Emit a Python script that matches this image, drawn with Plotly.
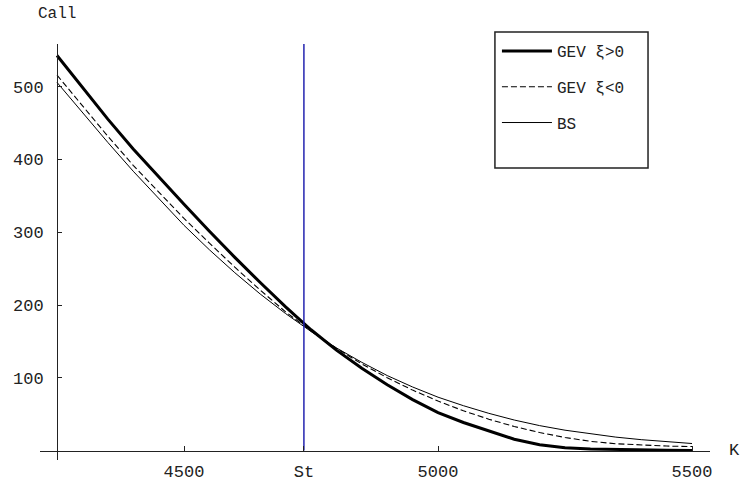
import plotly.graph_objects as go

# Strike prices K
strikes = [4250, 4300, 4350, 4400, 4450, 4500, 4550, 4600, 4650, 4700,
           4750, 4800, 4850, 4900, 4950, 5000, 5050, 5100, 5150, 5200,
           5250, 5300, 5350, 5400, 5450, 5500]

# Call prices
gev_pos = [543, 499, 455.5, 414.5, 376, 338.5, 301.5, 265.5, 231, 197.5,
           166, 138, 113, 90.5, 70, 52, 38.5, 26.5, 15.5, 7.8,
           3.8, 2.0, 1.2, 0.7, 0.3, 0.1]
gev_neg = [516, 473.5, 432, 392, 355, 319, 285, 252, 220.5, 190.5,
           164.5, 140.5, 119, 100, 83, 68, 54.6, 43, 33, 24.7,
           17.9, 12.6, 9.3, 7.3, 6.1, 5.4]
bs = [506, 464.5, 423.5, 383.9, 346.1, 309.5, 275.9, 244.4, 215.1, 188.2,
      163.6, 141.0, 121.2, 103.0, 87.3, 73.3, 61.6, 51.1, 41.9, 34.2,
      27.9, 22.7, 18.4, 14.9, 12.0, 9.6]

spot = 4736  # St
x_ticks = [4500, spot, 5000, 5500]
x_ticktext = ["4500", "St", "5000", "5500"]
y_ticks = [100, 200, 300, 400, 500]

FONT = "Liberation Mono, Courier New, monospace"
INK = "#222"

fig = go.Figure()
fig.add_trace(go.Scatter(x=strikes, y=gev_pos, mode="lines", name="GEV ξ>0",
                         line=dict(color="black", width=3), legendgroup="a"))
fig.add_trace(go.Scatter(x=strikes, y=gev_neg, mode="lines", name="GEV ξ<0",
                         line=dict(color="black", width=1.1, dash="6px,3px"), legendgroup="b"))
fig.add_trace(go.Scatter(x=strikes, y=bs, mode="lines", name="BS",
                         line=dict(color="black", width=1), legendgroup="c"))
fig.add_trace(go.Scatter(x=[spot, spot], y=[0, 558.8], mode="lines", showlegend=False,
                         line=dict(color="#2424b0", width=1.5), hoverinfo="skip"))

fig.update_layout(
    width=741, height=483,
    margin=dict(l=40, r=31, t=44, b=23, autoexpand=False),
    paper_bgcolor="white", plot_bgcolor="white",
    font=dict(family=FONT, size=16, color=INK),
    xaxis=dict(range=[4216.5, 5535.4], showgrid=False, zeroline=False,
               showline=True, linecolor=INK, linewidth=1, automargin=False,
               anchor="free", position=0.0228,
               tickvals=x_ticks, ticktext=x_ticktext,
               ticks="inside", ticklen=5, tickcolor=INK, tickwidth=1,
               ticklabelstandoff=5,
               tickfont=dict(family=FONT, size=17, color=INK)),
    yaxis=dict(range=[-13.06, 558.8], showgrid=False, zeroline=False,
               showline=True, linecolor=INK, linewidth=1, automargin=False,
               anchor="free", position=0.0254,
               tickvals=y_ticks,
               ticks="inside", ticklen=4, tickcolor=INK, tickwidth=1,
               ticklabelstandoff=10,
               tickfont=dict(family=FONT, size=17, color=INK)),
    legend=dict(x=0.682, y=1.024, xanchor="left", yanchor="top",
                borderwidth=0, bgcolor="rgba(0,0,0,0)",
                font=dict(family=FONT, size=16, color=INK),
                itemwidth=50,
                traceorder="grouped", tracegroupgap=12),
    showlegend=True,
    shapes=[dict(type="rect", xref="paper", yref="paper",
                 x0=0.679, x1=0.9075, y0=0.7019, y1=1.0288,
                 line=dict(color=INK, width=1.5), fillcolor="rgba(0,0,0,0)",
                 layer="above")],
    annotations=[
        dict(text="Call", x=0.0254, y=1.072, xref="paper", yref="paper",
             xanchor="center", yanchor="middle",
             showarrow=False, font=dict(family=FONT, size=16, color=INK)),
        dict(text="K", x=1.037, y=0.024, xref="paper", yref="paper",
             xanchor="center", yanchor="middle",
             showarrow=False, font=dict(family=FONT, size=17, color=INK)),
    ],
)

fig.write_html("out.html")
